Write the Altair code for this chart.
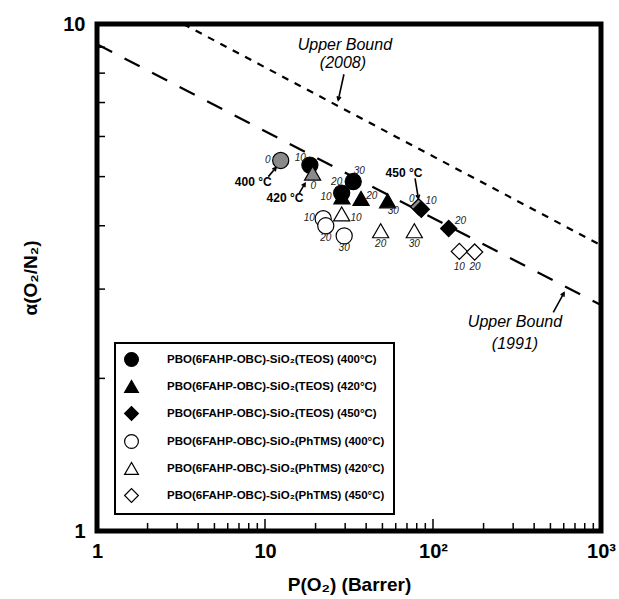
import altair as alt
import pandas as pd

FONT = "Liberation Sans"

# ---------------- data ----------------
series = [
    "PBO(6FAHP-OBC)-SiO₂(TEOS) (400°C)",
    "PBO(6FAHP-OBC)-SiO₂(TEOS) (420°C)",
    "PBO(6FAHP-OBC)-SiO₂(TEOS) (450°C)",
    "PBO(6FAHP-OBC)-SiO₂(PhTMS) (400°C)",
    "PBO(6FAHP-OBC)-SiO₂(PhTMS) (420°C)",
    "PBO(6FAHP-OBC)-SiO₂(PhTMS) (450°C)",
]
series_fill = ["black", "black", "black", "white", "white", "white"]
series_shape = ["circle", "triangle-up", "diamond", "circle", "triangle-up", "diamond"]

teos400_load = [10, 20, 30]
teos400_P = [18.5, 28.6, 33.5]
teos400_a = [5.27, 4.64, 4.89]

teos420_load = [10, 20, 30]
teos420_P = [28.7, 37.3, 53.7]
teos420_a = [4.56, 4.53, 4.48]

teos450_load = [10, 20]
teos450_P = [85.2, 124.0]
teos450_a = [4.31, 3.95]

ph400_load = [10, 20, 30]
ph400_P = [22.2, 23.0, 29.6]
ph400_a = [4.13, 4.00, 3.82]

ph420_load = [10, 20, 30]
ph420_P = [28.6, 48.8, 77.4]
ph420_a = [4.22, 3.91, 3.91]

ph450_load = [10, 20]
ph450_P = [143.5, 177.0]
ph450_a = [3.56, 3.55]

# neat membranes (0 wt%) at 400, 420, 450 °C
neat_P = [12.4, 19.2, 82.0]
neat_a = [5.38, 5.08, 4.36]

# upper bounds
ub1991_P = [1, 1000]
ub1991_a = [9.12, 2.79]
ub2008_P = [3.26, 1000]
ub2008_a = [10.0, 3.66]

# loading labels (text, anchor position)
lab_text = ["0", "10", "0", "30", "20", "10", "20", "30", "0", "10", "20",
            "10", "20", "30", "10", "20", "30", "10", "20"]
lab_P = [10.4, 16.2, 19.4, 36.4, 26.7, 23.1, 43.2, 58.0, 74.7, 97.3, 146,
         18.35, 23.0, 29.6, 34.8, 48.8, 77.4, 143.4, 177.8]
lab_a = [5.39, 5.43, 4.79, 5.14, 4.87, 4.56, 4.58, 4.28, 4.51, 4.48, 4.09,
         4.14, 3.78, 3.61, 4.14, 3.69, 3.69, 3.32, 3.31]

# temperature annotations
temp_text = ["400 °C", "420 °C", "450 °C"]
temp_P = [8.51, 13.15, 67.2]
temp_a = [4.89, 4.53, 5.09]

# bound annotations
ub_text = ["Upper Bound", "(2008)", "Upper Bound", "(1991)"]
ub_P = [29.9, 29.1, 307.6, 307.6]
ub_a = [9.10, 8.38, 2.58, 2.34]

# arrows: start -> tip
arr_P = [10.47, 16.0, 78.2, 29.5, 520]
arr_a = [5.00, 4.64, 4.96, 7.96, 2.70]
arr_P2 = [11.63, 17.3, 81.8, 27.3, 602]
arr_a2 = [5.21, 4.85, 4.53, 7.08, 2.95]
arr_ang = [40, 30, 171, 192, 28]

x_minor = [2, 3, 4, 5, 6, 7, 8, 9, 20, 30, 40, 50, 60, 70, 80, 90,
           200, 300, 400, 500, 600, 700, 800, 900]
x_major = [10, 100]
y_minor = [2, 3, 4, 5, 6, 7, 8, 9]

# ---------------- tables ----------------
rows = []
for s, L, P, A in [
    (series[0], teos400_load, teos400_P, teos400_a),
    (series[1], teos420_load, teos420_P, teos420_a),
    (series[2], teos450_load, teos450_P, teos450_a),
    (series[3], ph400_load, ph400_P, ph400_a),
    (series[4], ph420_load, ph420_P, ph420_a),
    (series[5], ph450_load, ph450_P, ph450_a),
]:
    for l, p, a in zip(L, P, A):
        rows.append({"series": s, "load": l, "P": p, "a": a})
pts = pd.DataFrame(rows)
neat = pd.DataFrame({"series": series[:3], "P": neat_P, "a": neat_a})
l1991 = pd.DataFrame({"P": ub1991_P, "a": ub1991_a})
l2008 = pd.DataFrame({"P": ub2008_P, "a": ub2008_a})
labs = pd.DataFrame({"t": lab_text, "P": lab_P, "a": lab_a})
temps = pd.DataFrame({"t": temp_text, "P": temp_P, "a": temp_a})
ubs = pd.DataFrame({"t": ub_text, "P": ub_P, "a": ub_a})
arrows = pd.DataFrame({"P": arr_P, "a": arr_a, "P2": arr_P2, "a2": arr_a2, "ang": arr_ang})
xmin_df = pd.DataFrame({"P": x_minor})
xmaj_df = pd.DataFrame({"P": x_major})
ymin_df = pd.DataFrame({"a": y_minor})

W, H = 504, 507

xs = alt.Scale(type="log", domain=[1, 1000], nice=False)
ys = alt.Scale(type="log", domain=[1, 10], nice=False)

xax = alt.Axis(
    values=[1, 10, 100, 1000],
    labelExpr="datum.value == 100 ? '10²' : datum.value == 1000 ? '10³' : format(datum.value, 'd')",
    ticks=False, domain=False, grid=False,
    labelFont=FONT, labelFontSize=20, labelFontWeight="bold", labelColor="black",
    labelPadding=10, labelFlush=False, labelOverlap=False,
    title="P(O₂) (Barrer)", titleFont=FONT, titleFontSize=19, titleFontWeight="bold",
    titleColor="black", titlePadding=14,
)
yax = alt.Axis(
    values=[1, 10], labelExpr="format(datum.value, 'd')",
    ticks=False, domain=False, grid=False,
    labelFont=FONT, labelFontSize=20, labelFontWeight="bold", labelColor="black",
    labelPadding=12, labelFlush=False, labelOverlap=False,
    title="α(O₂/N₂)", titleFont=FONT, titleFontSize=19, titleFontWeight="bold",
    titleColor="black", titlePadding=22,
)

X = alt.X("P:Q", scale=xs, axis=xax)
Y = alt.Y("a:Q", scale=ys, axis=yax)

legend = alt.Legend(
    orient="none", legendX=18, legendY=319, title=None,
    strokeColor="black", fillColor="white", padding=9, rowPadding=9,
    symbolSize=190, symbolStrokeWidth=1.2,
    labelFont=FONT, labelFontSize=11.5, labelFontWeight="bold", labelColor="black",
    labelOffset=28, labelLimit=400,
)

line1991 = alt.Chart(l1991).mark_line(
    color="black", strokeWidth=2.2, strokeDash=[17, 14], clip=True
).encode(x=X, y=Y)
line2008 = alt.Chart(l2008).mark_line(
    color="black", strokeWidth=2.2, strokeDash=[7, 7], clip=True
).encode(x=X, y=Y)

tx_minor = alt.Chart(xmin_df).mark_rule(color="black", strokeWidth=1.5).encode(
    x=X, y=alt.value(H), y2=alt.value(H - 8))
tx_major = alt.Chart(xmaj_df).mark_rule(color="black", strokeWidth=1.5).encode(
    x=X, y=alt.value(H), y2=alt.value(H - 12))
ty_minor = alt.Chart(ymin_df).mark_rule(color="black", strokeWidth=1.5).encode(
    y=Y, x=alt.value(0), x2=alt.value(8))

shape_enc = alt.Shape("series:N", scale=alt.Scale(domain=series, range=series_shape), legend=legend)
fill_enc = alt.Fill("series:N", scale=alt.Scale(domain=series, range=series_fill), legend=legend)

main_pts = alt.Chart(pts).mark_point(
    filled=True, strokeWidth=1.2, opacity=1, size=260
).encode(x=X, y=Y, shape=shape_enc, fill=fill_enc, stroke=alt.value("black"))

neat_base = alt.Chart(neat).mark_point(
    filled=True, fill="#8a8a8a", strokeWidth=1.2, opacity=1, size=260
).encode(x=X, y=Y, shape=shape_enc, stroke=alt.value("black"))
neat_under = neat_base.transform_filter(alt.datum.series == series[2])
neat_over = neat_base.transform_filter(alt.datum.series != series[2])

lab_layer = alt.Chart(labs).mark_text(
    font=FONT, fontSize=10, fontStyle="italic", color="#222222"
).encode(x=X, y=Y, text="t:N")

temp_layer = alt.Chart(temps).mark_text(
    font=FONT, fontSize=12, fontWeight="bold", color="black"
).encode(x=X, y=Y, text="t:N")

ub_layer = alt.Chart(ubs).mark_text(
    font=FONT, fontSize=16, fontStyle="italic", color="black"
).encode(x=X, y=Y, text="t:N")

arrow_shaft = alt.Chart(arrows).mark_rule(color="black", strokeWidth=1.6).encode(
    x=X, y=Y, x2="P2:Q", y2="a2:Q")
arrow_head = alt.Chart(arrows).mark_point(
    shape="M-0.6,1.1L0,0L0.6,1.1", filled=False, stroke="black", strokeWidth=1.6,
    size=40, opacity=1
).encode(
    x=alt.X("P2:Q", scale=xs, axis=xax), y=alt.Y("a2:Q", scale=ys, axis=yax),
    angle=alt.Angle("ang:Q", scale=None),
)

chart = alt.layer(
    line1991, line2008, tx_minor, tx_major, ty_minor,
    arrow_shaft, arrow_head, neat_under, main_pts, neat_over,
    lab_layer, temp_layer, ub_layer,
).properties(
    width=W, height=H,
    autosize=alt.AutoSizeParams(type="none"),
    padding={"left": 97, "top": 24, "right": 18, "bottom": 68},
    background="white",
).configure_view(stroke="black", strokeWidth=5).configure_legend(strokeWidth=2)

chart.save("out.html", embed_options={"renderer": "svg", "actions": False})
